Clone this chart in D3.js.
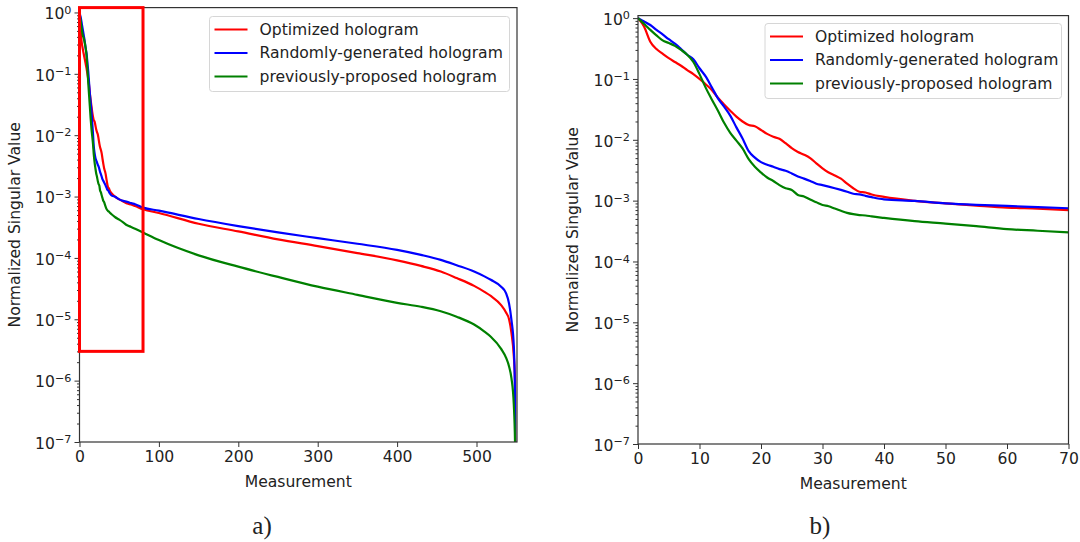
<!DOCTYPE html>
<html>
<head>
<meta charset="utf-8">
<script src="https://cdn.jsdelivr.net/npm/d3@7"></script>
<style>
  body { margin: 0; background: #fff; }
  svg text { font-family: "DejaVu Sans", sans-serif; fill: #222; }
  .caption { font-family: "Liberation Serif", "Times New Roman", serif !important; }
</style>
</head>
<body>
<svg id="chart" width="1080" height="542"></svg>
<script>
// ---- data ----
// first 70 measurements (shown in both panels)
const measHead = [0,1,2,3,4,5,6,7,8,9,10,11,12,13,14,15,16,17,18,19,20,21,22,23,24,25,26,27,28,29,30,31,32,33,34,35,36,37,38,40,45,50,55,60,65,70];
const optimizedHead = [1.0,0.72,0.41,0.31,0.26,0.22,0.19,0.165,0.14,0.12,0.10,0.082,0.066,0.049,0.038,0.030,0.024,0.020,0.0175,0.0167,0.0145,0.0125,0.0112,0.0104,0.0088,0.0073,0.0063,0.0057,0.0050,0.0041,0.0034,0.0029,0.0026,0.0023,0.0019,0.0016,0.0014,0.00136,0.00126,0.00115,0.00099,0.00090,0.00083,0.00077,0.00074,0.00070];
const randomHead = [1.0,0.88,0.77,0.64,0.54,0.45,0.38,0.31,0.25,0.21,0.15,0.11,0.073,0.048,0.035,0.025,0.016,0.0105,0.0065,0.0051,0.0043,0.0039,0.0036,0.0033,0.0031,0.0028,0.0025,0.0023,0.0021,0.0019,0.0018,0.0017,0.0016,0.0015,0.0014,0.0013,0.00127,0.0012,0.00114,0.00105,0.00099,0.00090,0.00085,0.00082,0.00078,0.00075];
const previousHead = [1.0,0.80,0.64,0.52,0.43,0.39,0.35,0.30,0.25,0.19,0.12,0.072,0.046,0.030,0.019,0.013,0.0097,0.0072,0.0048,0.0036,0.0029,0.0024,0.0021,0.0018,0.0016,0.0015,0.00124,0.00117,0.00104,0.00094,0.00085,0.00081,0.00074,0.00068,0.00063,0.00060,0.00058,0.00057,0.00055,0.00052,0.00046,0.00042,0.00038,0.00034,0.00032,0.00030];

// remaining measurements (panel a only)
const measTail = [80,100,150,200,250,300,350,400,430,455,475,497,510,518,531,537,541,544,547,548.5,549];
const optimizedTail = [6.2e-4,5.4e-4,3.6e-4,2.7e-4,2.0e-4,1.56e-4,1.2e-4,9.1e-5,7.4e-5,6.0e-5,4.7e-5,3.5e-5,2.8e-5,2.4e-5,1.7e-5,1.3e-5,1.0e-5,6e-6,2.5e-6,1e-6,1e-9];
const randomTail = [6.6e-4,5.9e-4,4.3e-4,3.3e-4,2.6e-4,2.1e-4,1.7e-4,1.35e-4,1.12e-4,9.3e-5,7.6e-5,6.0e-5,5.0e-5,4.4e-5,3.4e-5,2.7e-5,1.8e-5,9.8e-6,3.6e-6,5.5e-7,1e-9];
const previousTail = [2.6e-4,1.95e-4,1.1e-4,7.2e-5,4.9e-5,3.4e-5,2.5e-5,1.85e-5,1.6e-5,1.35e-5,1.1e-5,8.2e-6,6.3e-6,5.2e-6,3.3e-6,2.4e-6,1.7e-6,1.1e-6,4e-7,1e-7,1e-9];

const seriesNames = ["Optimized hologram", "Randomly-generated hologram", "previously-proposed hologram"];
const seriesColors = ["#ff0000", "#0000ff", "#008000"];
const yTicks = [1e0,1e-1,1e-2,1e-3,1e-4,1e-5,1e-6,1e-7];
const xTicksA = [0,100,200,300,400,500];
const xTicksB = [0,10,20,30,40,50,60,70];
const zoomBox = {x0: 0, x1: 80, yLow: 3e-6};

const fontSize = 15.6;
const svg = d3.select("#chart");

const zip = (xs, ys) => xs.map((x, i) => [x, ys[i]]);
const headSeries = [optimizedHead, randomHead, previousHead].map(v => zip(measHead, v));
const fullSeries = [
  zip(measHead.concat(measTail), optimizedHead.concat(optimizedTail)),
  zip(measHead.concat(measTail), randomHead.concat(randomTail)),
  zip(measHead.concat(measTail), previousHead.concat(previousTail))
];

// minor ticks 2..9 of every decade
const minorTicks = [];
for (let e = -7; e < 0; e++) for (let m = 2; m <= 9; m++) minorTicks.push(m * Math.pow(10, e));

function supLabels(sel) {
  sel.each(function(d) {
    const t = d3.select(this).text("");
    const e = Math.round(Math.log10(d));
    t.append("tspan").text("10");
    t.append("tspan")
      .attr("dy", "-0.5em")
      .attr("font-size", "0.72em")
      .text(e < 0 ? "\u2212" + (-e) : e);
  });
}

function drawPanel(p) {
  const g = svg.append("g");
  const x = d3.scaleLinear().domain(p.xDomain).range([p.left, p.right]);
  const y = d3.scaleLog().domain([1e-7, p.yMax]).range([p.bottom, p.top]);

  const clipId = "clip-" + p.id;
  svg.append("clipPath").attr("id", clipId)
    .append("rect")
      .attr("x", p.left).attr("y", p.top)
      .attr("width", p.right - p.left).attr("height", p.bottom - p.top);

  // lines
  const line = d3.line()
    .curve(d3.curveMonotoneX)
    .x(d => x(d[0]))
    .y(d => y(Math.max(d[1], 1e-9)));

  g.append("g").attr("clip-path", `url(#${clipId})`)
    .selectAll("path")
    .data(p.series)
    .join("path")
      .attr("d", line)
      .attr("fill", "none")
      .attr("stroke", (_, i) => seriesColors[i])
      .attr("stroke-width", 2.2)
      .attr("stroke-linejoin", "round");

  // minor y ticks
  g.append("g")
    .attr("transform", `translate(${p.left},0)`)
    .call(d3.axisLeft(y).tickValues(minorTicks).tickSize(2.5).tickFormat(""))
    .call(a => a.select(".domain").remove())
    .call(a => a.selectAll("line").attr("stroke", "#333"));

  // major y ticks
  g.append("g")
    .attr("transform", `translate(${p.left},0)`)
    .call(d3.axisLeft(y).tickValues(yTicks).tickSize(5).tickPadding(3))
    .call(a => a.select(".domain").remove())
    .call(a => a.selectAll("line").attr("stroke", "#333"))
    .call(a => a.selectAll("text").attr("font-size", fontSize).attr("dy", "0.4em").call(supLabels));

  // x ticks
  g.append("g")
    .attr("transform", `translate(0,${p.bottom})`)
    .call(d3.axisBottom(x).tickValues(p.xTicks).tickSize(5).tickPadding(4))
    .call(a => a.select(".domain").remove())
    .call(a => a.selectAll("line").attr("stroke", "#333"))
    .call(a => a.selectAll("text").attr("font-size", fontSize));

  // frame
  g.append("rect")
    .attr("x", p.left).attr("y", p.top)
    .attr("width", p.right - p.left).attr("height", p.bottom - p.top)
    .attr("fill", "none").attr("stroke", "#333").attr("stroke-width", 1.2);

  // zoom rectangle (panel a)
  if (p.box) {
    g.append("rect")
      .attr("x", x(p.box.x0))
      .attr("y", y(p.yMax))
      .attr("width", x(p.box.x1) - x(p.box.x0))
      .attr("height", y(p.box.yLow) - y(p.yMax))
      .attr("fill", "none").attr("stroke", "#ff0000").attr("stroke-width", 3);
  }

  // axis titles
  g.append("text")
    .attr("x", (p.left + p.right) / 2).attr("y", p.bottom + 45)
    .attr("text-anchor", "middle").attr("font-size", fontSize)
    .text("Measurement");
  g.append("text")
    .attr("transform", `translate(${p.left - 60},${(p.top + p.bottom) / 2}) rotate(-90)`)
    .attr("text-anchor", "middle").attr("font-size", fontSize)
    .text("Normalized Singular Value");

  // legend
  const lg = g.append("g").attr("transform", `translate(${p.legend[0]},${p.legend[1]})`);
  lg.append("rect")
    .attr("width", p.legend[2]).attr("height", 75).attr("rx", 3)
    .attr("fill", "#fff").attr("fill-opacity", 0.85)
    .attr("stroke", "#d6d6d6");
  seriesNames.forEach((name, i) => {
    const yy = 13 + i * 23.5;
    lg.append("line")
      .attr("x1", 5).attr("x2", 38).attr("y1", yy).attr("y2", yy)
      .attr("stroke", seriesColors[i]).attr("stroke-width", 2.2);
    lg.append("text")
      .attr("x", 50).attr("y", yy).attr("dy", "0.35em")
      .attr("font-size", fontSize)
      .text(name);
  });

  // caption
  svg.append("text")
    .attr("class", "caption")
    .attr("x", p.caption[0]).attr("y", p.caption[1])
    .attr("text-anchor", "middle").attr("font-size", 25)
    .text(p.captionText);
}

drawPanel({
  id: "a", left: 79.5, right: 517, top: 7.6, bottom: 442,
  xDomain: [0, 551], yMax: 1.2, xTicks: xTicksA,
  series: fullSeries, box: zoomBox,
  legend: [209.5, 16.5, 300], caption: [262, 534], captionText: "a)"
});

drawPanel({
  id: "b", left: 638, right: 1068.5, top: 15.6, bottom: 444,
  xDomain: [0, 70], yMax: 1.1, xTicks: xTicksB,
  series: headSeries, box: null,
  legend: [765, 23.5, 296.5], caption: [820, 534], captionText: "b)"
});
</script>
</body>
</html>
